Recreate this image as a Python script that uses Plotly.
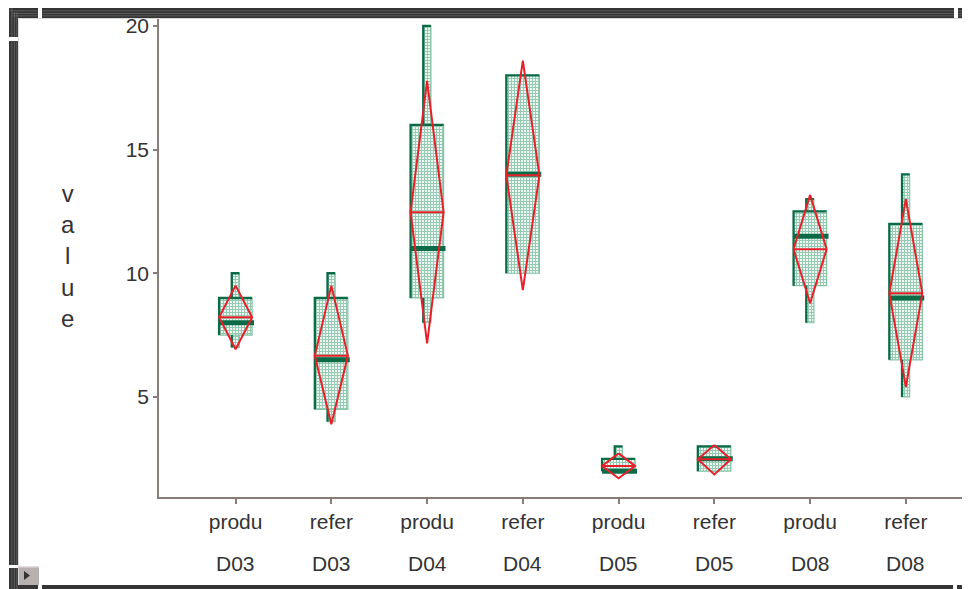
import plotly.graph_objects as go

# ---- data ----
groups = ["produ", "refer", "produ", "refer", "produ", "refer", "produ", "refer"]
sites = ["D03", "D03", "D04", "D04", "D05", "D05", "D08", "D08"]
v_min = [7.0, 4.0, 8.0, 10.0, 2.0, 2.0, 8.0, 5.0]
v_q1 = [7.5, 4.5, 9.0, 10.0, 2.0, 2.0, 9.5, 6.5]
v_med = [8.0, 6.5, 11.0, 14.0, 2.0, 2.5, 11.5, 9.0]
v_q3 = [9.0, 9.0, 16.0, 18.0, 2.5, 3.0, 12.5, 12.0]
v_max = [10.0, 10.0, 20.0, 18.0, 3.0, 3.0, 13.0, 14.0]
v_mean = [8.22, 6.67, 12.47, 13.96, 2.21, 2.48, 10.97, 9.19]
ci_low = [6.93, 3.90, 7.17, 9.32, 1.71, 1.87, 8.79, 5.41]
ci_high = [9.50, 9.50, 17.78, 18.60, 2.72, 3.06, 13.17, 13.00]
y_ticks = [5, 10, 15, 20]

# page body adds an 8px margin; build the figure in page coordinates minus that
OFF = 8
W, H = 970 - OFF, 589 - OFF
L, R, T, B = 159 - OFF, 0, 17 - OFF, 589 - 497
PW, PH = W - L - R, H - T - B

BOX_W = 0.345
WHISK_W = 0.08
DARK_GREEN = "#0b6b46"
LIGHT_EDGE = "#86c4a6"
RED = "#e8202a"
AXIS = "#8a7c78"
TXT = "#333333"
FONT = "Liberation Sans, Arial"

xs = list(range(len(groups)))

fig = go.Figure()

pattern = dict(shape="+", fgcolor="#3f9c73", bgcolor="#eef8f3", size=3, solidity=0.55)

# whiskers (narrow bars behind)
fig.add_trace(go.Bar(
    x=xs, y=[mx - mn for mx, mn in zip(v_max, v_min)], base=v_min, width=WHISK_W,
    marker=dict(color="#eef8f3", pattern=pattern, line=dict(color=LIGHT_EDGE, width=1.2)),
    hoverinfo="skip", showlegend=False))

# boxes
fig.add_trace(go.Bar(
    x=xs, y=[q3 - q1 for q3, q1 in zip(v_q3, v_q1)], base=v_q1, width=BOX_W,
    marker=dict(color="#eef8f3", pattern=pattern, line=dict(color=LIGHT_EDGE, width=1.2)),
    hoverinfo="skip", showlegend=False))

# dark left/top edges (shadow-style frame), only where visible
ex, ey = [], []
for c, mn, q1, q3, mxv in zip(xs, v_min, v_q1, v_q3, v_max):
    hw = WHISK_W / 2
    if mxv > q3:
        ex += [c - hw, c - hw, c + hw, None]
        ey += [q3, mxv, mxv, None]
    if mn < q1:
        ex += [c - hw, c - hw, None]
        ey += [mn, q1, None]
    bw = BOX_W / 2
    ex += [c - bw, c - bw, c + bw, None]
    ey += [q1, q3, q3, None]
fig.add_trace(go.Scatter(x=ex, y=ey, mode="lines", line=dict(color=DARK_GREEN, width=2.3),
                         hoverinfo="skip", showlegend=False))

# medians
mx, my = [], []
for x, m in zip(xs, v_med):
    mx += [x - BOX_W / 2, x + BOX_W / 2 + 0.02, None]
    my += [m, m, None]
fig.add_trace(go.Scatter(x=mx, y=my, mode="lines",
                         line=dict(color=DARK_GREEN, width=5), hoverinfo="skip", showlegend=False))

# mean diamonds
dx, dy = [], []
for x, m, lo, hi in zip(xs, v_mean, ci_low, ci_high):
    hw = BOX_W / 2
    dx += [x, x + hw, x, x - hw, x, None, x - hw, x + hw, None]
    dy += [hi, m, lo, m, hi, None, m, m, None]
fig.add_trace(go.Scatter(x=dx, y=dy, mode="lines",
                         line=dict(color=RED, width=2), hoverinfo="skip", showlegend=False))

# helpers for decoration: reference-page pixels -> paper coords
def px(xp):
    return (xp - OFF - L) / PW

def py(yp):
    return 1 - (yp - OFF - T) / PH

shapes = []

def rect(x0, y0, x1, y1, color):
    shapes.append(dict(type="rect", xref="paper", yref="paper",
                       x0=px(x0), x1=px(x1), y0=py(y1), y1=py(y0),
                       fillcolor=color, line=dict(width=0), layer="above"))

# window frame
FR = "#353535"
rect(9, 8, 975, 18, FR)      # top
rect(9, 8, 18, 595, FR)      # left
rect(9, 585, 975, 595, FR)   # bottom
for yy in (10.5, 13, 15.5):
    rect(12 if yy > 11 else 9, yy, 975, yy + 0.8, "#666666")
for xx in (11.5, 14, 16.5):
    rect(xx, 12 if xx > 12 else 8, xx + 0.8, 595, "#666666")
rect(18, 18, 975, 19, "#d8d8d8")
rect(18, 18, 19, 585, "#d8d8d8")
# notches
rect(38, 8, 42, 18, "white")
rect(954, 8, 958, 18, "white")
rect(9, 37, 18, 41, "white")
rect(9, 565, 18, 568, "white")
rect(38, 585, 42, 595, "white")
rect(953, 585, 957, 595, "white")
# corner button
rect(19, 566, 39, 585, "#b8b0ae")
rect(19, 566, 39, 567.5, "#e2dcda")
shapes.append(dict(type="path", xref="paper", yref="paper",
                   path=f"M {px(24)} {py(571)} L {px(30)} {py(575.5)} L {px(24)} {py(580)} Z",
                   fillcolor="#333333", line=dict(width=0), layer="above"))

annotations = []
for x, s in zip(xs, sites):
    annotations.append(dict(x=x, xref="x", y=py(563), yref="paper", text=s,
                            showarrow=False, xanchor="center", yanchor="middle",
                            font=dict(family=FONT, size=21, color=TXT)))
annotations.append(dict(x=px(68), xref="paper", y=py(256), yref="paper",
                        text="v<br>a<br>l<br>u<br>e", showarrow=False,
                        xanchor="center", yanchor="middle", align="center",
                        font=dict(family=FONT, size=24, color=TXT)))

fig.update_layout(
    width=W, height=H,
    margin=dict(l=L, r=R, t=T, b=B, autoexpand=False),
    paper_bgcolor="white", plot_bgcolor="white",
    barmode="overlay",
    shapes=shapes, annotations=annotations,
    xaxis=dict(range=[-0.80, 7.67], tickmode="array", tickvals=xs, ticktext=groups,
               showgrid=False, zeroline=False, showline=True, linecolor=AXIS, linewidth=1.5,
               ticks="outside", ticklen=5, tickcolor=AXIS, tickwidth=1.5,
               tickfont=dict(family=FONT, size=21, color=TXT),
               ticklabelstandoff=0, automargin=False),
    yaxis=dict(range=[0.955, 20.36], tickmode="array", tickvals=y_ticks,
               showgrid=False, zeroline=False, showline=True, linecolor=AXIS, linewidth=1.5,
               ticks="outside", ticklen=4, tickcolor=AXIS, tickwidth=1.5,
               tickfont=dict(family=FONT, size=21, color=TXT),
               ticklabelstandoff=0, automargin=False),
)

fig.write_html("out.html")
